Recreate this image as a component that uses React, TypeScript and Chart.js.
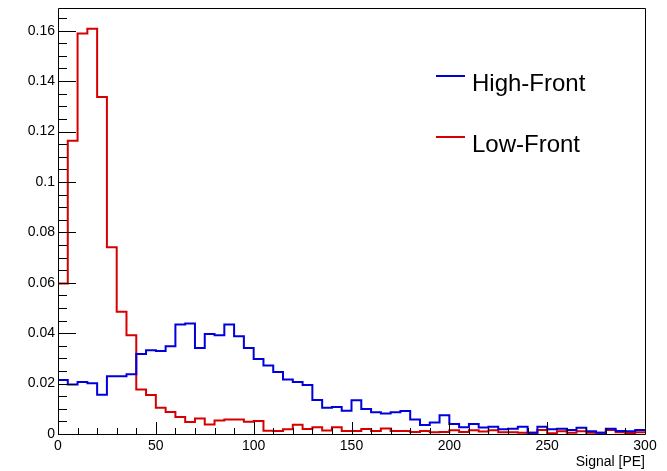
import React, { useEffect, useRef } from 'react';
import { Chart, registerables } from 'chart.js';

Chart.register(...registerables);

// Lower edges of the 5 PE wide bins
const BIN_LOW = [
  0, 5, 10, 15, 20, 25, 30, 35, 40, 45,
  50, 55, 60, 65, 70, 75, 80, 85, 90, 95,
  100, 105, 110, 115, 120, 125, 130, 135, 140, 145,
  150, 155, 160, 165, 170, 175, 180, 185, 190, 195,
  200, 205, 210, 215, 220, 225, 230, 235, 240, 245,
  250, 255, 260, 265, 270, 275, 280, 285, 290, 295,
];
const X_MAX = 300;

const HIGH_FRONT = [
  0.0214, 0.0196, 0.0206, 0.0201, 0.0156, 0.0229, 0.0229, 0.0237, 0.0317, 0.0332,
  0.0329, 0.0348, 0.0434, 0.0438, 0.0341, 0.0397, 0.0392, 0.0434, 0.0388, 0.0341,
  0.0298, 0.0272, 0.0246, 0.0216, 0.0206, 0.0194, 0.0135, 0.0104, 0.0107, 0.0092,
  0.0134, 0.0099, 0.0086, 0.0081, 0.0086, 0.0091, 0.0058, 0.0036, 0.0046, 0.0074,
  0.0040, 0.0027, 0.0040, 0.0026, 0.0029, 0.0019, 0.0021, 0.0029, 0.0005, 0.0029,
  0.0019, 0.0021, 0.0016, 0.0025, 0.0011, 0.0005, 0.0021, 0.0012, 0.0011, 0.0016,
];

const LOW_FRONT = [
  0.0597, 0.1163, 0.1589, 0.1608, 0.1337, 0.0741, 0.0485, 0.0392, 0.0177, 0.0155,
  0.0104, 0.0087, 0.0067, 0.0048, 0.0061, 0.0038, 0.0054, 0.0058, 0.0058, 0.0049,
  0.0052, 0.0013, 0.0012, 0.0019, 0.0037, 0.0020, 0.0027, 0.0014, 0.0027, 0.0012,
  0.0012, 0.0020, 0.0012, 0.0022, 0.0012, 0.0012, 0.0008, 0.0012, 0.0007, 0.0008,
  0.0015, 0.0008, 0.0015, 0.0010, 0.0015, 0.0007, 0.0007, 0.0005, 0.0005, 0.0016,
  0.0003, 0.0011, 0.0005, 0.0011, 0.0005, 0.0005, 0.0016, 0.0007, 0.0004, 0.0007,
];

const SERIES_NAMES = ['High-Front', 'Low-Front'];
const SERIES_COLORS = ['rgb(0,0,220)', 'rgb(215,0,0)'];

const X_MAJOR = [0, 50, 100, 150, 200, 250, 300];
const X_MINOR_STEP = 10;
const Y_MAJOR = [0, 0.02, 0.04, 0.06, 0.08, 0.1, 0.12, 0.14, 0.16];
const Y_MINOR_STEP = 0.005;
const Y_MAX = 0.169;
const X_TITLE = 'Signal [PE]';

const FONT = '"Liberation Sans", Arial, Helvetica, sans-serif';

function toPoints(vals: number[]) {
  const pts = BIN_LOW.map((x, i) => ({ x, y: vals[i] }));
  pts.push({ x: X_MAX, y: vals[vals.length - 1] });
  return pts;
}

const frameAndTicks = {
  id: 'frameAndTicks',
  afterDatasetsDraw(chart: any) {
    const { ctx, chartArea } = chart;
    const xs = chart.scales.x;
    const ys = chart.scales.y;
    const { left, right, top, bottom } = chartArea;
    ctx.save();
    ctx.strokeStyle = '#000';
    ctx.lineWidth = 1;
    // frame
    ctx.beginPath();
    ctx.rect(Math.round(left) + 0.5, Math.round(top) + 0.5, Math.round(right - left), Math.round(bottom - top));
    ctx.stroke();
    // x ticks
    ctx.beginPath();
    for (let v = 0; v <= X_MAX + 1e-9; v += X_MINOR_STEP) {
      const px = Math.round(xs.getPixelForValue(v)) + 0.5;
      const major = X_MAJOR.some((m) => Math.abs(m - v) < 1e-6);
      const len = major ? 12 : 6;
      ctx.moveTo(px, bottom);
      ctx.lineTo(px, bottom - len);
    }
    // y ticks
    for (let v = 0; v <= Y_MAX + 1e-9; v += Y_MINOR_STEP) {
      const py = Math.round(ys.getPixelForValue(v)) + 0.5;
      const major = Y_MAJOR.some((m) => Math.abs(m - v) < 1e-6);
      const len = major ? 18 : 9;
      ctx.moveTo(left, py);
      ctx.lineTo(left + len, py);
    }
    ctx.stroke();

    // axis title
    ctx.fillStyle = '#000';
    ctx.font = `14px ${FONT}`;
    ctx.textAlign = 'right';
    ctx.textBaseline = 'alphabetic';
    ctx.fillText(X_TITLE, right, 466);

    // legend
    const legendRows = [76, 137];
    chart.data.datasets.forEach((ds: any, i: number) => {
      const y = legendRows[i];
      ctx.strokeStyle = ds.borderColor;
      ctx.lineWidth = 2;
      ctx.beginPath();
      ctx.moveTo(436, y);
      ctx.lineTo(465, y);
      ctx.stroke();
      ctx.fillStyle = '#000';
      ctx.font = `24px ${FONT}`;
      ctx.textAlign = 'left';
      ctx.textBaseline = 'alphabetic';
      ctx.fillText(ds.label, 472, y + 15);
    });
    ctx.restore();
  },
};

export default function App() {
  const ref = useRef<HTMLCanvasElement | null>(null);
  useEffect(() => {
    document.body.style.margin = '0';
    const canvas = ref.current;
    if (!canvas) return;
    const chart = new Chart(canvas, {
      type: 'line',
      data: {
        datasets: [HIGH_FRONT, LOW_FRONT].map((vals, i) => ({
          label: SERIES_NAMES[i],
          data: toPoints(vals),
          borderColor: SERIES_COLORS[i],
          backgroundColor: SERIES_COLORS[i],
          borderWidth: 2,
          pointRadius: 0,
          stepped: 'before',
          fill: false,
        })),
      },
      options: {
        animation: false,
        responsive: false,
        devicePixelRatio: 1,
        layout: { padding: { top: 8, right: 22, left: 0, bottom: 0 } },
        plugins: { legend: { display: false }, tooltip: { enabled: false }, title: { display: false } },
        scales: {
          x: {
            type: 'linear',
            min: 0,
            max: X_MAX,
            grid: { display: false, drawTicks: false },
            border: { display: false },
            afterBuildTicks: (s: any) => {
              s.ticks = X_MAJOR.map((v) => ({ value: v }));
            },
            afterFit: (s: any) => {
              s.height = 37;
              s.paddingLeft = 0;
              s.paddingRight = 0;
              s.paddingTop = 0;
              s.paddingBottom = 0;
            },
            ticks: {
              padding: 4,
              maxRotation: 0,
              autoSkip: false,
              color: '#000',
              font: { family: FONT, size: 14 },
              callback: (v: any) => String(v),
            },
          },
          y: {
            type: 'linear',
            min: 0,
            max: Y_MAX,
            grid: { display: false, drawTicks: false },
            border: { display: false },
            afterBuildTicks: (s: any) => {
              s.ticks = Y_MAJOR.map((v) => ({ value: v }));
            },
            afterFit: (s: any) => {
              s.width = 58;
              s.paddingLeft = 0;
              s.paddingRight = 0;
              s.paddingTop = 0;
              s.paddingBottom = 0;
            },
            ticks: {
              padding: 3,
              autoSkip: false,
              color: '#000',
              font: { family: FONT, size: 14 },
              callback: (v: any) => (v === 0 ? '0' : String(+Number(v).toFixed(3))),
            },
          },
        },
      },
      plugins: [frameAndTicks],
    });
    return () => chart.destroy();
  }, []);
  return (
    <div style={{ position: 'absolute', left: 0, top: 0, width: 667, height: 471, background: '#fff' }}>
      <canvas ref={ref} width={667} height={471} style={{ display: 'block', width: 667, height: 471 }} />
    </div>
  );
}
